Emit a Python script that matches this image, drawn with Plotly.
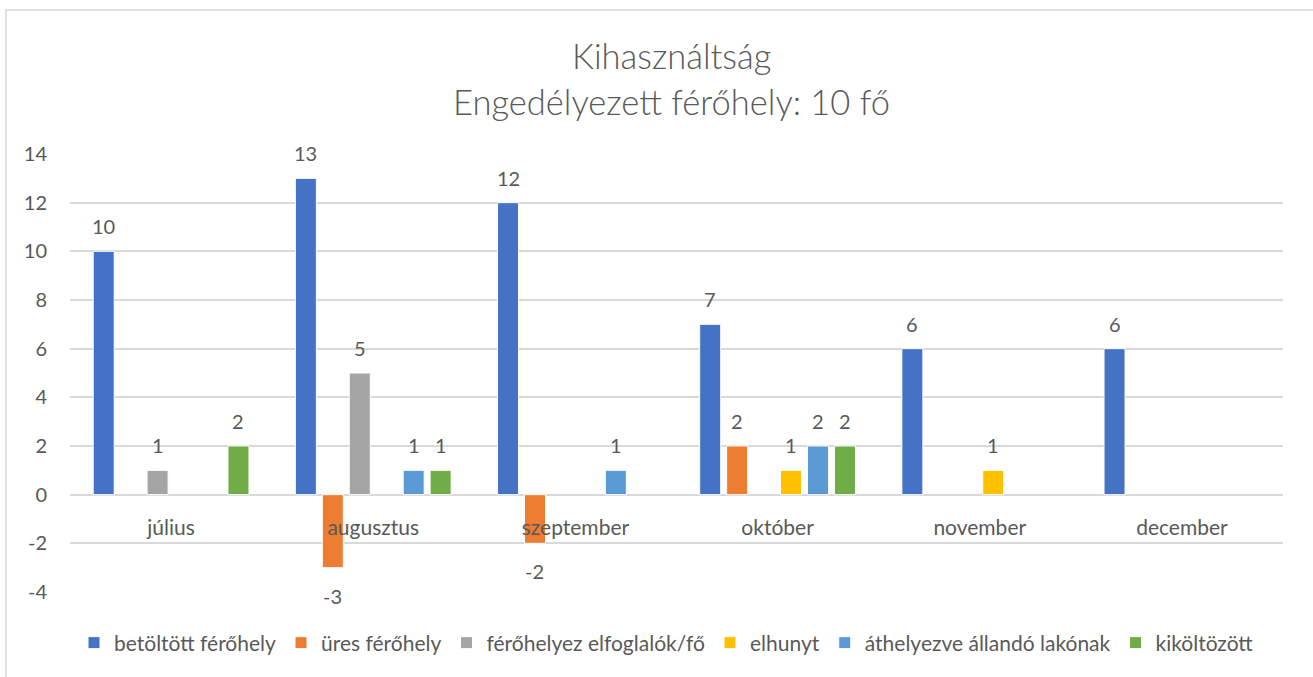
import plotly.graph_objects as go

categories = ["július", "augusztus", "szeptember", "október", "november", "december"]
series_names = ["betöltött férőhely", "üres férőhely", "férőhelyez elfoglalók/fő",
                "elhunyt", "áthelyezve állandó lakónak", "kiköltözött"]
betoltott = [10, 13, 12, 7, 6, 6]
ures = [None, -3, -2, 2, None, None]
elfoglalok = [1, 5, None, None, None, None]
elhunyt = [None, None, None, 1, 1, None]
athelyezve = [None, 1, 1, 2, None, None]
kikoltozott = [2, 1, None, 2, None, None]
series_values = [betoltott, ures, elfoglalok, elhunyt, athelyezve, kikoltozott]
colors = ["#4472C4", "#ED7D31", "#A5A5A5", "#FFC000", "#5B9BD5", "#70AD47"]
yticks = [-4, -2, 0, 2, 4, 6, 8, 10, 12, 14]
title_lines = ["Kihasználtság", "Engedélyezett férőhely: 10 fő"]

FONT = "Lato"
TXT = "#595959"
BARGAP = 0.2
nser = len(series_names)

fig = go.Figure()
for name, vals, col in zip(series_names, series_values, colors):
    fig.add_trace(go.Bar(
        x=categories, y=vals, name=name,
        marker=dict(color=col, line=dict(color="white", width=1)),
        hoverinfo="x+y+name",
    ))

annotations = []
slot = (1 - BARGAP) / nser
for i, vals in enumerate(series_values):
    for j, v in enumerate(vals):
        if v is None:
            continue
        xpos = j + (i - (nser - 1) / 2) * slot
        annotations.append(dict(
            x=xpos, y=v, xref="x", yref="y", text=str(v), showarrow=False,
            yanchor="middle", yshift=25 if v > 0 else -28,
            font=dict(family=FONT, size=20, color=TXT),
        ))

for line, ypix in zip(title_lines, [55, 101]):
    annotations.append(dict(
        x=0.5 - 5 / 1213, y=1 + (154 - ypix) / 438, xref="paper", yref="paper", text=line,
        showarrow=False, xanchor="center", yanchor="middle",
        font=dict(family=FONT, size=34.5, color=TXT, weight=300)))

fig.update_layout(
    width=1313, height=677,
    margin=dict(l=70, r=30, t=154, b=85, pad=0),
    paper_bgcolor="white", plot_bgcolor="white",
    barmode="group", bargap=BARGAP, bargroupgap=0.22,
    font=dict(family=FONT, size=20, color=TXT),
    annotations=annotations,
    showlegend=True,
    legend=dict(orientation="h", x=0.5 - 10 / 1213, xanchor="center",
                y=-(643 - 592) / 438, yanchor="middle",
                font=dict(family=FONT, size=21, color=TXT),
                itemwidth=30, tracegroupgap=0, traceorder="normal"),
    xaxis=dict(
        type="category", anchor="free", position=4 / 18,
        showgrid=False, showline=False, zeroline=False,
        ticks="", ticklabelstandoff=18,
        tickfont=dict(family=FONT, size=21, color=TXT),
    ),
    yaxis=dict(
        range=[-4, 14], tickvals=yticks, ticktext=[str(t) for t in yticks],
        showgrid=True, gridcolor="#D9D9D9", gridwidth=1.5,
        zeroline=True, zerolinecolor="#D9D9D9", zerolinewidth=1.5,
        showline=False, ticks="", ticklabelstandoff=22,
        tickfont=dict(family=FONT, size=20, color=TXT),
    ),
    shapes=[dict(type="rect", xref="paper", yref="paper",
                 x0=(6 - 70) / 1213, x1=1.2, y0=-0.5, y1=1 + (154 - 10) / 438,
                 line=dict(color="#D9D9D9", width=1.5), fillcolor="rgba(0,0,0,0)",
                 layer="below")],
)

fig.write_html("out.html", config={"displayModeBar": False},
               post_script="document.body.style.margin='0';")
